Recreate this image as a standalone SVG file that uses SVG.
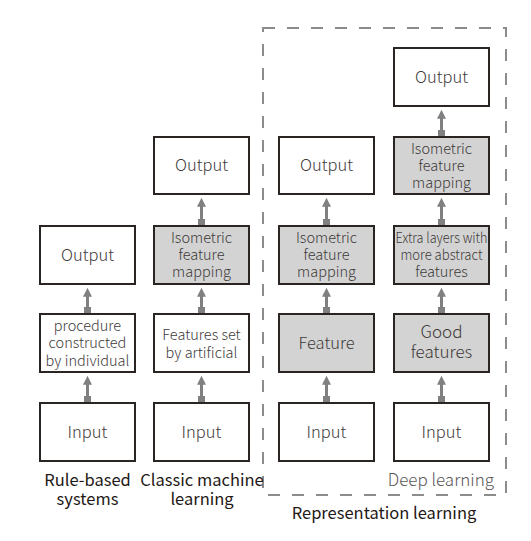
<svg xmlns="http://www.w3.org/2000/svg" width="531" height="541" viewBox="0 0 531 541">
<style>
  .box { stroke: #2a2523; stroke-width: 2; }
  .w { fill: #ffffff; }
  .g { fill: #d3d3d3; }
  text { font-family: "Noto Sans CJK SC", "Noto Sans", sans-serif; fill: #3e3a39; text-anchor: middle; }
  .t16 { font-size: 16.5px; font-weight: 300; }
  .t14 { font-size: 14.5px; font-weight: 300; }
  .t17 { font-size: 17px; font-weight: 300; }
  .lab { font-size: 16.5px; font-weight: 400; fill: #231815; }
  .conn { stroke: #808080; stroke-width: 3; fill: none; marker-start: url(#sq); marker-end: url(#arr); }
  .frame { fill: none; stroke: #8c8c8c; stroke-width: 2; stroke-dasharray: 12 12; }
</style>
<defs>
  <marker id="arr" viewBox="0 0 10 10" markerWidth="9" markerHeight="9" markerUnits="userSpaceOnUse" refX="3" refY="5" orient="auto">
    <path d="M0,0 L10,5 L0,10 z" fill="#808080"/>
  </marker>
  <marker id="sq" viewBox="0 0 10 10" markerWidth="7" markerHeight="7" markerUnits="userSpaceOnUse" refX="5" refY="5" orient="auto">
    <rect x="0" y="0" width="10" height="10" fill="#808080"/>
  </marker>
</defs>

<rect id="frame" class="frame" x="263" y="28" width="243" height="467"/>

<g id="connectors">
  <path class="conn" d="M87.5,399.5 V382"/>
  <path class="conn" d="M87.5,310.5 V294"/>
  <path class="conn" d="M201.5,399.5 V382"/>
  <path class="conn" d="M201.5,310.5 V294"/>
  <path class="conn" d="M201.5,222.5 V204"/>
  <path class="conn" d="M326.5,399.5 V382"/>
  <path class="conn" d="M326.5,310.5 V294"/>
  <path class="conn" d="M326.5,222.5 V204"/>
  <path class="conn" d="M441.5,399.5 V382"/>
  <path class="conn" d="M441.5,310.5 V294"/>
  <path class="conn" d="M441.5,222.5 V204"/>
  <path class="conn" d="M441.5,133.5 V116"/>
</g>

<!-- Column 1: Rule-based systems -->
<g id="c1-output"><rect class="box w" x="40" y="226" width="95" height="58"/><text class="t16" x="87.5" y="261">Output</text></g>
<g id="c1-procedure"><rect class="box w" x="40" y="314" width="95" height="58"/>
  <text class="t14" x="87.5" y="330.5">procedure</text>
  <text class="t14" x="87.5" y="348">constructed</text>
  <text class="t14" x="87.5" y="365.5">by individual</text></g>
<g id="c1-input"><rect class="box w" x="40" y="403" width="95" height="58"/><text class="t16" x="87.5" y="437.5">Input</text></g>

<!-- Column 2: Classic machine learning -->
<g id="c2-output"><rect class="box w" x="154" y="137" width="95" height="57"/><text class="t16" x="201.5" y="171">Output</text></g>
<g id="c2-iso"><rect class="box g" x="154" y="226" width="95" height="58"/>
  <text class="t14" x="201.5" y="243">Isometric</text>
  <text class="t14" x="201.5" y="260">feature</text>
  <text class="t14" x="201.5" y="277">mapping</text></g>
<g id="c2-features"><rect class="box w" x="154" y="314" width="95" height="58"/>
  <text class="t14" x="201.5" y="339.5">Features set</text>
  <text class="t14" x="201.5" y="357.5">by artificial</text></g>
<g id="c2-input"><rect class="box w" x="154" y="403" width="95" height="58"/><text class="t16" x="201.5" y="437.5">Input</text></g>

<!-- Column 3: Representation learning -->
<g id="c3-output"><rect class="box w" x="279" y="137" width="95" height="57"/><text class="t16" x="326.5" y="171">Output</text></g>
<g id="c3-iso"><rect class="box g" x="279" y="226" width="95" height="58"/>
  <text class="t14" x="326.5" y="243">Isometric</text>
  <text class="t14" x="326.5" y="260">feature</text>
  <text class="t14" x="326.5" y="277">mapping</text></g>
<g id="c3-feature"><rect class="box g" x="279" y="314" width="95" height="58"/><text class="t16" x="326.5" y="349">Feature</text></g>
<g id="c3-input"><rect class="box w" x="279" y="403" width="95" height="58"/><text class="t16" x="326.5" y="437.5">Input</text></g>

<!-- Column 4: Deep learning -->
<g id="c4-output"><rect class="box w" x="394" y="48" width="95" height="58"/><text class="t16" x="441.5" y="82.5">Output</text></g>
<g id="c4-iso"><rect class="box g" x="394" y="137" width="95" height="57"/>
  <text class="t14" x="441.5" y="154">Isometric</text>
  <text class="t14" x="441.5" y="171">feature</text>
  <text class="t14" x="441.5" y="188">mapping</text></g>
<g id="c4-extra"><rect class="box g" x="394" y="226" width="95" height="58"/>
  <text class="t14" x="441.5" y="243" textLength="92" lengthAdjust="spacingAndGlyphs">Extra layers with</text>
  <text class="t14" x="441.5" y="260" textLength="82" lengthAdjust="spacingAndGlyphs">more abstract</text>
  <text class="t14" x="441.5" y="277">features</text></g>
<g id="c4-good"><rect class="box g" x="394" y="314" width="95" height="58"/>
  <text class="t17" x="441.5" y="338">Good</text>
  <text class="t17" x="441.5" y="358">features</text></g>
<g id="c4-input"><rect class="box w" x="394" y="403" width="95" height="58"/><text class="t16" x="441.5" y="437.5">Input</text></g>

<!-- Labels -->
<g id="labels">
  <text class="lab" x="87.5" y="486">Rule-based</text>
  <text class="lab" x="87.5" y="505">systems</text>
  <text class="lab" x="202" y="486">Classic machine</text>
  <text class="lab" x="202" y="505">learning</text>
  <text class="t17" x="494" y="486" style="fill:#595757;text-anchor:end">Deep learning</text>
  <text class="lab" x="384" y="519">Representation learning</text>
</g>
</svg>
